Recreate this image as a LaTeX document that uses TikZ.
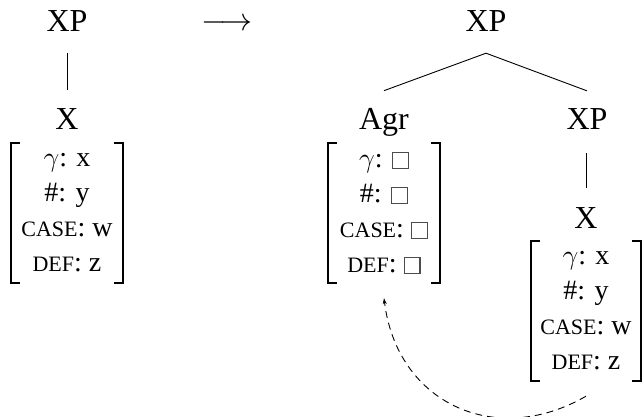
\RequirePackage{fix-cm}
\documentclass[tikz,border=0pt]{standalone}
\usepackage{fontspec}
\setmainfont{Liberation Serif}
\usetikzlibrary{arrows.meta}
\newcommand\smc[1]{{\fontsize{22}{22}\selectfont #1}}
\newcommand\gapbox{{\color{black!70}\setlength\fboxsep{0pt}\setlength\fboxrule{1.3pt}\fbox{\rule{0pt}{14.5pt}\rule{14.5pt}{0pt}}}}
\begin{document}
\begin{tikzpicture}[x=1pt,y=1pt,
  lab/.style={inner sep=0pt, anchor=base, font=\fontsize{32}{38}\selectfont},
  avm/.style={inner sep=0pt, minimum width=112pt, minimum height=140pt, align=center, font=\fontsize{28}{35}\selectfont},
  brk/.style={line width=1.8pt},
  edge/.style={line width=0.9pt}]
\useasboundingbox (0,0) rectangle (642,-417);
% left tree
\node[lab] (xpA) at (67,-32) {XP};
\node[lab] (arr) at (227,-31) {$\longrightarrow$};
\node[lab] (xA) at (67,-129) {X};
\node[avm] (avmA) at (67,-213) {$\gamma$: x\\ \#: y\\ \smc{CASE}: w\\ \smc{DEF}: z};
% right tree
\node[lab] (xpB) at (486,-32) {XP};
\node[lab] (agr) at (384,-130) {Agr};
\node[lab] (xpC) at (587,-130) {XP};
\node[avm] (avmB) at (384,-213) {$\gamma$: \gapbox\\ \#: \gapbox\\ \smc{CASE}: \gapbox\\ \smc{DEF}: \gapbox};
\node[lab] (xC) at (586,-228) {X};
\node[avm, minimum width=110pt] (avmC) at (586,-311) {$\gamma$: x\\ \#: y\\ \smc{CASE}: w\\ \smc{DEF}: z};
% connectors
\draw[edge] ([yshift=-21pt]xpA.south) -- ([yshift=18pt]xA.north);
\draw[edge] ([yshift=-21pt]xpB.south) -- ([yshift=18pt]agr.north);
\draw[edge] ([yshift=-21pt]xpB.south) -- ([yshift=18pt]xpC.north);
\draw[edge] ([xshift=-1pt,yshift=-23pt]xpC.south) -- ([yshift=19pt]xC.north);
% brackets
\foreach \n in {avmA,avmB,avmC} {
  \draw[brk] ([xshift=9pt]\n.north west) -| (\n.south west) -- ++(9pt,0);
  \draw[brk] ([xshift=-9pt]\n.north east) -| (\n.south east) -- ++(-9pt,0);
}
% movement arrow
\draw[edge, dash pattern=on 7pt off 5pt, -{Stealth[length=6pt,width=4pt]}]
  ([yshift=-15pt]avmC.south) to[out=-150,in=-83,looseness=1.2] ([yshift=-15pt]avmB.south);
\end{tikzpicture}
\end{document}
